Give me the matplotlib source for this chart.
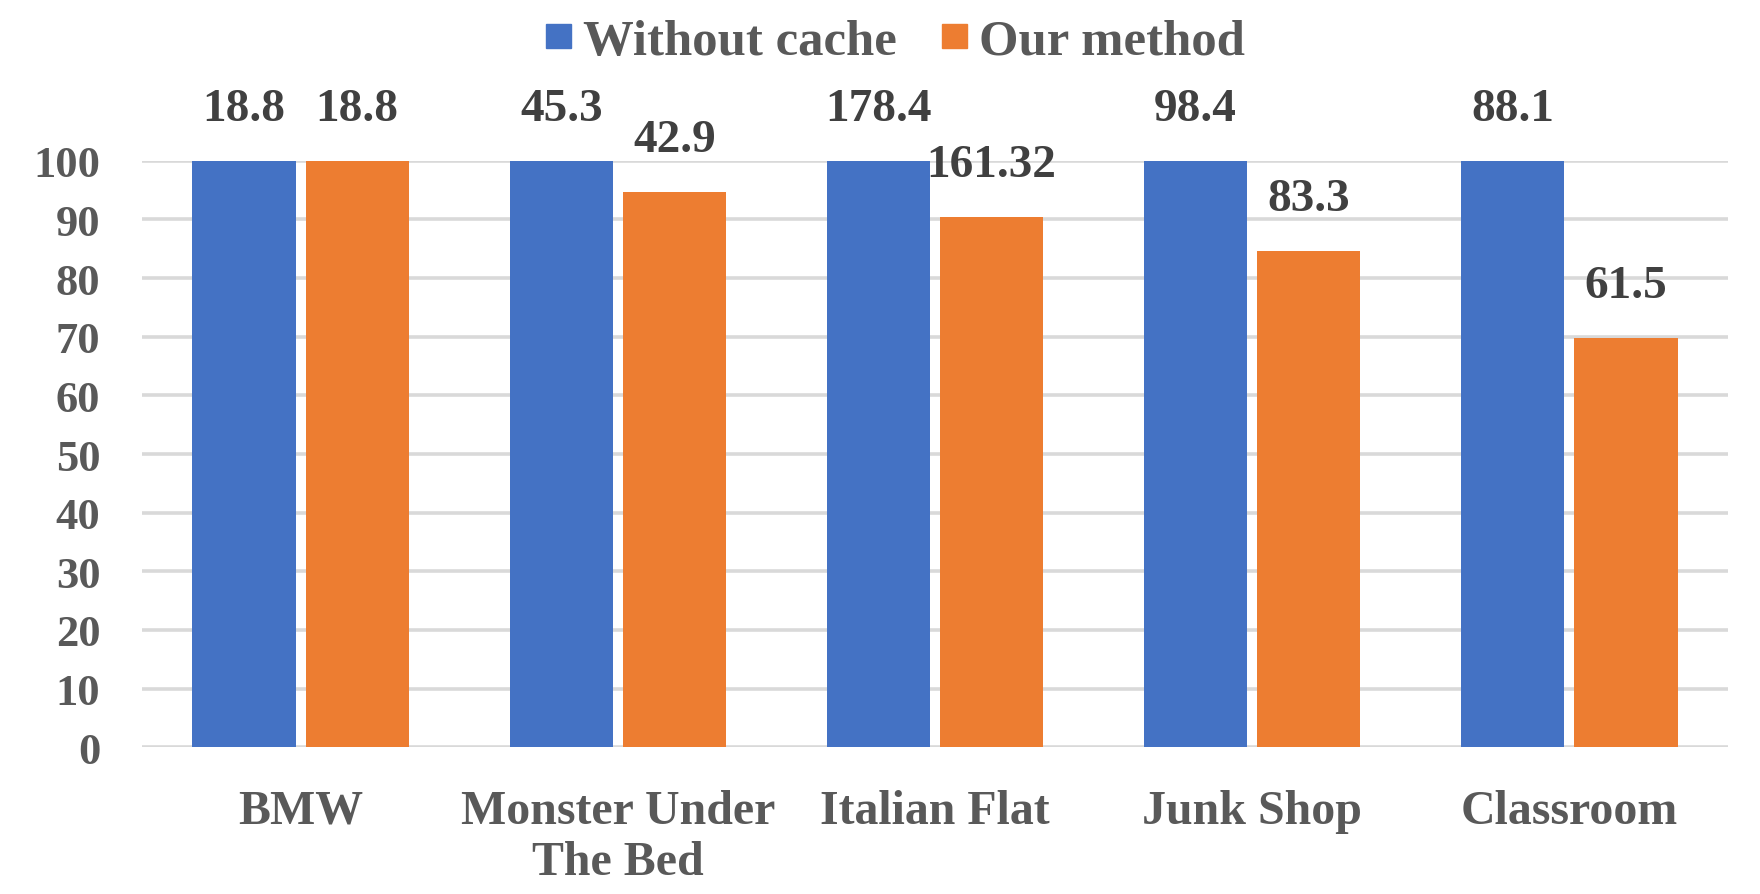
import numpy as np
import matplotlib
matplotlib.use("Agg")
import matplotlib.pyplot as plt
from matplotlib.patches import Patch

# data
scenes = ["BMW", "Monster Under\nThe Bed", "Italian Flat", "Junk Shop", "Classroom"]
without_cache = [18.8, 45.3, 178.4, 98.4, 88.1]
our_method = [18.8, 42.9, 161.32, 83.3, 61.5]
our_labels = ["18.8", "42.9", "161.32", "83.3", "61.5"]
base_labels = ["18.8", "45.3", "178.4", "98.4", "88.1"]

# normalised to the baseline (percent)
base_pct = np.array(without_cache) / np.array(without_cache) * 100
our_pct = np.array(our_method) / np.array(without_cache) * 100

blue = "#4472C4"
orange = "#ED7D31"
tick_col = "#595959"
lab_col = "#404040"

plt.rcParams["font.family"] = ["Liberation Serif", "DejaVu Serif"]
plt.rcParams["font.weight"] = "bold"

fig = plt.figure(figsize=(17.6, 8.95), dpi=100)
ax = fig.add_axes([0.0807, 0.1639, 0.9011, 0.6554])

x = np.arange(len(scenes))
w = 0.325
off = w / 2 + 0.016
b1 = ax.bar(x - off, base_pct, w, color=blue, zorder=2)
b2 = ax.bar(x + off, our_pct, w, color=orange, zorder=2)

for bars, labs in ((b1, base_labels), (b2, our_labels)):
    for bar, lab in zip(bars, labs):
        ax.annotate(lab, (bar.get_x() + bar.get_width() / 2, bar.get_height()),
                    xytext=(0, 22), textcoords="offset points",
                    ha="center", va="bottom", fontsize=34, fontweight="bold",
                    color=lab_col, annotation_clip=False)

ax.set_xlim(-0.5, len(scenes) - 0.5)
ax.set_ylim(0, 100)
ax.set_yticks(range(0, 101, 10))
ax.set_xticks(x)
ax.set_xticklabels(scenes, linespacing=1.2)
ax.tick_params(axis="both", length=0, labelsize=32, colors=tick_col)
ax.tick_params(axis="x", labelsize=34.5, pad=30)
ax.tick_params(axis="y", pad=30)
for t in ax.get_xticklabels() + ax.get_yticklabels():
    t.set_fontweight("bold")

ax.grid(axis="y", color="#D9D9D9", linewidth=2.6, zorder=0)
ax.set_axisbelow(True)
for s in ax.spines.values():
    s.set_visible(False)

handles = [Patch(color=blue, label="Without cache"), Patch(color=orange, label="Our method")]
fig.legend(handles=handles, loc="center", bbox_to_anchor=(0.509, 0.952), ncol=2,
           frameon=False, handlelength=0.49, handleheight=0.35,
           handletextpad=0.24, columnspacing=0.89, labelcolor=tick_col,
           prop={"weight": "bold", "size": 36.5})

fig.savefig("out.png", dpi=100)
